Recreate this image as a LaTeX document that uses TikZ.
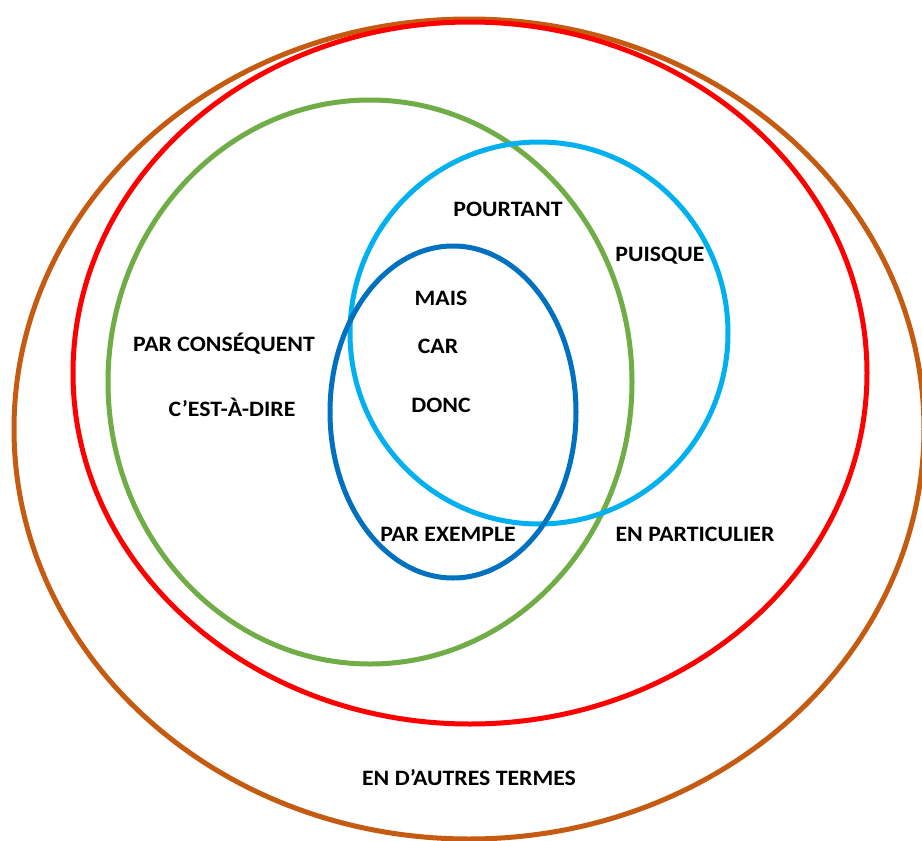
\documentclass[tikz,border=0pt]{standalone}
\usepackage{fontspec}
\setmainfont{Carlito}[FakeStretch=1.08]
\definecolor{cOrange}{HTML}{C55A11}
\definecolor{cRed}{HTML}{FF0000}
\definecolor{cGreen}{HTML}{70AD47}
\definecolor{cLight}{HTML}{00B0F0}
\definecolor{cDark}{HTML}{0070C0}
\tikzset{
  ring/.style={line width=5pt},
  lbl/.style={font=\fontsize{22}{24}\selectfont\bfseries, inner sep=0pt, text=black}
}
\begin{document}
\begin{tikzpicture}[x=1pt,y=-1pt]
\useasboundingbox (0,0) rectangle (922,841);
\fill[white] (0,0) rectangle (922,841);
\clip (0,0) rectangle (922,841);
\draw[ring, cOrange] (469,429) ellipse [x radius=455pt, y radius=410pt];
\draw[ring, cRed] (470,373) ellipse [x radius=397pt, y radius=351pt];
\draw[ring, cGreen] (370,382) ellipse [x radius=262pt, y radius=282pt];
\draw[ring, cLight] (539,333) ellipse [x radius=189pt, y radius=191pt];
\draw[ring, cDark] (453,412) ellipse [x radius=123pt, y radius=166pt];
\node[lbl] (pourtant) at (508,209) {POURTANT};
\node[lbl] (puisque) at (660,256) {PUISQUE};
\node[lbl] (mais) at (441,298) {MAIS};
\node[lbl] (car) at (438,346) {CAR};
\node[lbl] (donc) at (441,405) {DONC};
\node[lbl] (parcons) at (224,344) {PAR CONSÉQUENT};
\node[lbl] (cest) at (232,407) {C’EST-À-DIRE};
\node[lbl] (parex) at (448,534) {PAR EXEMPLE};
\node[lbl] (enpart) at (695,534) {EN PARTICULIER};
\node[lbl] (enautres) at (469,778) {EN D’AUTRES TERMES};
\end{tikzpicture}
\end{document}
